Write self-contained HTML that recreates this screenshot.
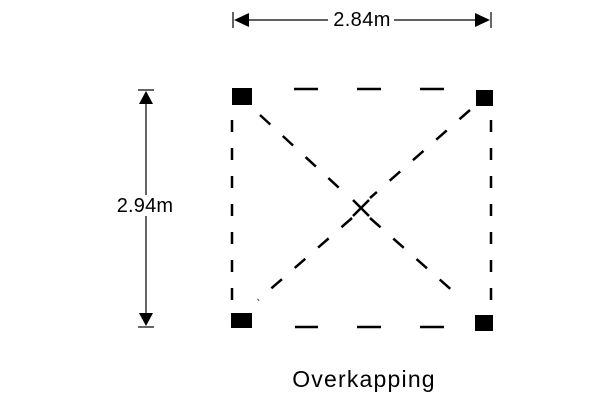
<!DOCTYPE html>
<html><head><style>
html,body{margin:0;padding:0;background:#fff;width:600px;height:400px;overflow:hidden}
</style></head><body>
<svg width="600" height="400" xmlns="http://www.w3.org/2000/svg">
<rect width="600" height="400" fill="#fff"/>
<g stroke="#000" stroke-width="1.2">
<line x1="233" y1="12" x2="233" y2="28"/>
<line x1="491" y1="12" x2="491" y2="28"/>
<line x1="240" y1="20" x2="328" y2="20"/>
<line x1="394" y1="20" x2="484" y2="20"/>
<line x1="138" y1="90" x2="154" y2="90"/>
<line x1="138" y1="327" x2="154" y2="327"/>
<line x1="146" y1="95" x2="146" y2="195"/>
<line x1="146" y1="216" x2="146" y2="322"/>
</g>
<polygon points="234,20 249,13 249,27" fill="#000"/>
<polygon points="490,20 475,13 475,27" fill="#000"/>
<polygon points="146,91 139,104 153,104" fill="#000"/>
<polygon points="146,326 139,313 153,313" fill="#000"/>
<g stroke="#000" stroke-width="2.5" fill="none">
<line x1="294" y1="89" x2="318" y2="89"/>
<line x1="357" y1="89" x2="381" y2="89"/>
<line x1="420" y1="89" x2="444" y2="89"/>
<line x1="295" y1="327" x2="318" y2="327"/>
<line x1="357" y1="327" x2="381" y2="327"/>
<line x1="420" y1="327" x2="444" y2="327"/>
<line x1="232" y1="120" x2="232" y2="305" stroke-dasharray="12 16"/>
<line x1="491" y1="120" x2="491" y2="305" stroke-dasharray="12 16"/>
<line x1="260" y1="115" x2="350" y2="198" stroke-dasharray="14 17"/>
<line x1="470" y1="110" x2="370" y2="198" stroke-dasharray="14 17"/>
<line x1="352" y1="218" x2="258" y2="300" stroke-dasharray="14 17"/>
<line x1="370" y1="218" x2="463" y2="300" stroke-dasharray="14 17"/>
<line x1="353" y1="200" x2="369" y2="216"/>
<line x1="369" y1="200" x2="353" y2="216"/>
</g>
<g fill="#000">
<rect x="232" y="88" width="20" height="17"/>
<rect x="476" y="90" width="17" height="16"/>
<rect x="231" y="313" width="21" height="15"/>
<rect x="475" y="315" width="18" height="16"/>
</g>
<g font-family="Liberation Sans, Arial, sans-serif" fill="#000">
<text x="362" y="26" font-size="20" text-anchor="middle" letter-spacing="0.4">2.84m</text>
<text x="145" y="212" font-size="20" text-anchor="middle" letter-spacing="0.2">2.94m</text>
<text x="364" y="387" font-size="23" text-anchor="middle" letter-spacing="1.2">Overkapping</text>
</g>
</svg>
</body></html>
